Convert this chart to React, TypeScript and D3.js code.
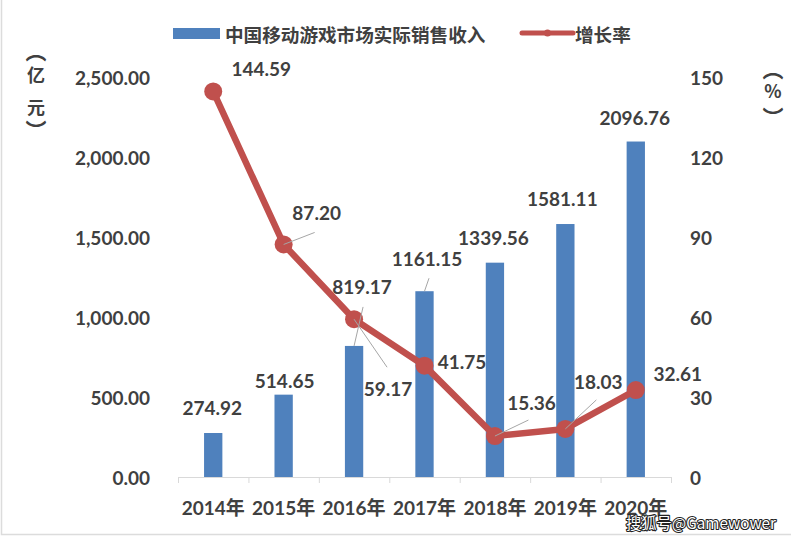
import React from "react";
import * as d3 from "d3";

const years = ["2014年", "2015年", "2016年", "2017年", "2018年", "2019年", "2020年"];
const revenue = [274.92, 514.65, 819.17, 1161.15, 1339.56, 1581.11, 2096.76];
const growth = [144.59, 87.2, 59.17, 41.75, 15.36, 18.03, 32.61];
const leftTicks = [0, 500, 1000, 1500, 2000, 2500];
const rightTicks = [0, 30, 60, 90, 120, 150];
const legendBar = "中国移动游戏市场实际销售收入";
const legendLine = "增长率";
const leftUnit = ["︵", "亿", "元", "︶"];
const rightUnit = ["︵", "%", "︶"];
const watermark = "搜狐号@Gamewower";

// label placement (offsets from anchor) and optional leader line ends
const barLabelPos: [number, number, number[] | null][] = [
  [-1, -26, null],
  [1, -14, null],
  [8, -59, [9, -39]],
  [2.5, -33, [4.5, -13]],
  [-1.5, -25, null],
  [-3, -26, null],
  [-1, -24.5, null],
];
const lineLabelPos: [number, number, number[] | null][] = [
  [48, -23, null],
  [33, -31.5, [31, -12]],
  [34, 69, [33, 48]],
  [37.5, -3.7, null],
  [36.5, -34, [33.5, -16]],
  [33, -47, [31, -29]],
  [42, -17, null],
];

const W = 791;
const H = 539;
const BLUE = "#4F81BD";
const RED = "#C0504D";
const TXT = "#404040";
const FONT = "Lato, 'Noto Sans CJK SC', sans-serif";
const CJK = "'Noto Sans CJK SC', sans-serif";

function UnitChar({ c, x, y }: { c: string; x: number; y: number }) {
  const paren = c === "︵" || c === "︶";
  return (
    <text
      x={x}
      y={y}
      textAnchor="middle"
      dominantBaseline="central"
      fontFamily={CJK}
      fontSize={paren ? 21 : 18}
      fontWeight="bold"
      fill={TXT}
    >
      {c}
    </text>
  );
}

export default function App() {
  const x = d3.scaleBand<string>().domain(years).range([178, 671]).padding(0);
  const yL = d3.scaleLinear().domain([0, 2500]).range([477, 77]);
  const yR = d3.scaleLinear().domain([0, 150]).range([477, 77]);
  const bw = x.bandwidth() * 0.26;
  const cx = (y: string) => (x(y) as number) + x.bandwidth() / 2;
  const line = d3
    .line<number>()
    .x((_, i) => cx(years[i]))
    .y((d) => yR(d));
  const fmtL = d3.format(",.2f");

  return (
    <svg
      width={W}
      height={H}
      style={{ position: "absolute", left: 0, top: 0, background: "#fff" }}
    >
      <polyline points="1.5,0 1.5,534.5 791,534.5" fill="none" stroke="#dcdcdc" strokeWidth={1.5} />

      {/* legend */}
      <rect x={173} y={28} width={47} height={11} fill={BLUE} />
      <text x={225} y={33} dominantBaseline="central" fontFamily={CJK} fontSize={18.6} fontWeight="bold" fill={TXT}>
        {legendBar}
      </text>
      <line x1={522} x2={573} y1={33} y2={33} stroke={RED} strokeWidth={5} strokeLinecap="round" />
      <circle cx={547.5} cy={33} r={3.5} fill={RED} />
      <text x={575} y={33} dominantBaseline="central" fontFamily={CJK} fontSize={18.6} fontWeight="bold" fill={TXT}>
        {legendLine}
      </text>

      {/* units */}
      {leftUnit.map((c, i) => (
        <UnitChar key={"lu" + i} c={c} x={36} y={[50, 74, 106, 129][i]} />
      ))}
      {rightUnit.map((c, i) => (
        <UnitChar key={"ru" + i} c={c} x={773} y={[68, 90, 116][i]} />
      ))}

      {/* left axis ticks */}
      {leftTicks.map((t) => (
        <text key={"l" + t} x={150} y={yL(t)} textAnchor="end" dominantBaseline="central" fontFamily={FONT} fontSize={19} fontWeight="bold" fill={TXT}>
          {fmtL(t)}
        </text>
      ))}
      {/* right axis ticks */}
      {rightTicks.map((t) => (
        <text key={"r" + t} x={690} y={yR(t)} textAnchor="start" dominantBaseline="central" fontFamily={FONT} fontSize={19} fontWeight="bold" fill={TXT}>
          {t}
        </text>
      ))}

      {/* bars */}
      {revenue.map((v, i) => (
        <rect key={"b" + i} x={cx(years[i]) - bw / 2} y={yL(v)} width={bw} height={yL(0) - yL(v)} fill={BLUE} />
      ))}

      {/* x axis */}
      <line x1={178} x2={671} y1={477.5} y2={477.5} stroke="#d9d9d9" strokeWidth={1} />
      {years.map((yv, i) => (
        <line key={"tk" + i} x1={(x(yv) as number) + 0.5} x2={(x(yv) as number) + 0.5} y1={477} y2={483} stroke="#d9d9d9" />
      ))}
      <line x1={671.5} x2={671.5} y1={477} y2={483} stroke="#d9d9d9" />
      {years.map((yv) => (
        <text key={"x" + yv} x={cx(yv)} y={507} textAnchor="middle" dominantBaseline="central" fontFamily={FONT} fontSize={19} fontWeight="bold" fill={TXT}>
          {yv}
        </text>
      ))}

      {/* line */}
      <path d={line(growth) || ""} fill="none" stroke={RED} strokeWidth={6.5} strokeLinejoin="round" />
      {growth.map((v, i) => (
        <circle key={"c" + i} cx={cx(years[i])} cy={yR(v)} r={9} fill={RED} />
      ))}

      {/* leader lines */}
      {revenue.map((v, i) => {
        const p = barLabelPos[i];
        if (!p[2]) return null;
        const ax = cx(years[i]);
        const ay = yL(v);
        return <line key={"bl" + i} x1={ax} y1={ay} x2={ax + p[2][0]} y2={ay + p[2][1]} stroke="#a6a6a6" strokeWidth={1} />;
      })}
      {growth.map((v, i) => {
        const p = lineLabelPos[i];
        if (!p[2]) return null;
        const ax = cx(years[i]);
        const ay = yR(v);
        return <line key={"ll" + i} x1={ax} y1={ay} x2={ax + p[2][0]} y2={ay + p[2][1]} stroke="#a6a6a6" strokeWidth={1} />;
      })}

      {/* labels */}
      {revenue.map((v, i) => (
        <text key={"bt" + i} x={cx(years[i]) + barLabelPos[i][0]} y={yL(v) + barLabelPos[i][1]} textAnchor="middle" dominantBaseline="central" fontFamily={FONT} fontSize={19} fontWeight="bold" fill={TXT}>
          {v.toFixed(2)}
        </text>
      ))}
      {growth.map((v, i) => (
        <text key={"lt" + i} x={cx(years[i]) + lineLabelPos[i][0]} y={yR(v) + lineLabelPos[i][1]} textAnchor="middle" dominantBaseline="central" fontFamily={FONT} fontSize={19} fontWeight="bold" fill={TXT}>
          {v.toFixed(2)}
        </text>
      ))}

      {/* watermark */}
      <text x={626} y={522} dominantBaseline="central" fontFamily={CJK} fontSize={15.5} textLength={150} lengthAdjust="spacingAndGlyphs" fill="#fff" stroke="#222" strokeWidth={2.2} paintOrder="stroke" strokeLinejoin="round">
        {watermark}
      </text>
    </svg>
  );
}
